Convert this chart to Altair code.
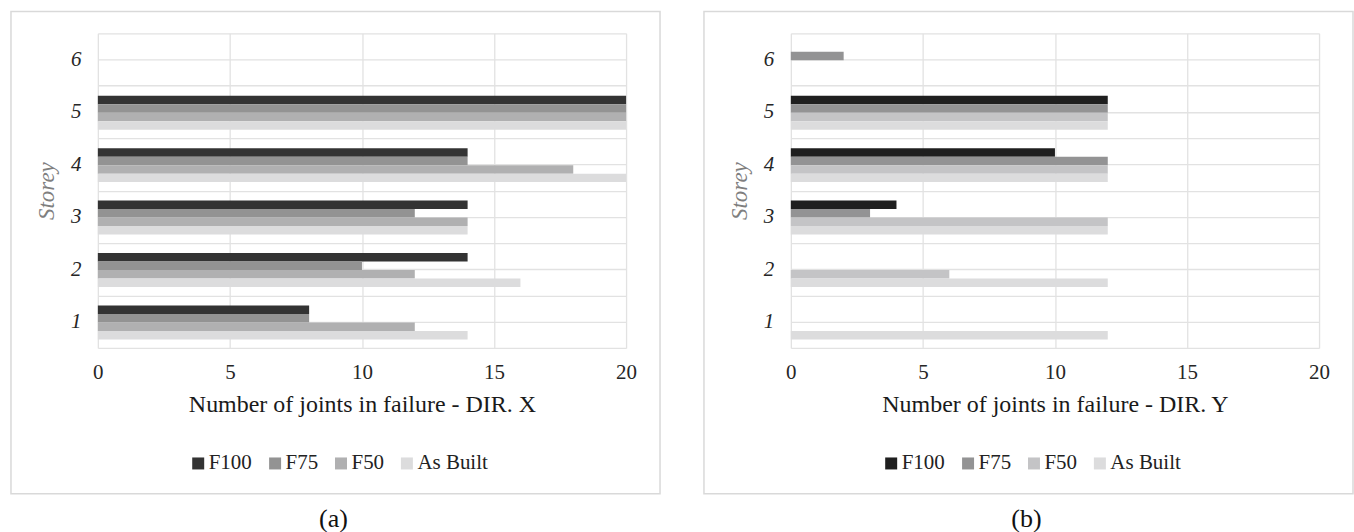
import altair as alt
import pandas as pd

# Storey numbers and retrofit series
storeys = [1, 2, 3, 4, 5, 6]
series = ["F100", "F75", "F50", "As Built"]

# Joints in failure per storey (storey 1..6), direction X
dir_x_f100 = [8, 14, 14, 14, 20, 0]
dir_x_f75 = [8, 10, 12, 14, 20, 0]
dir_x_f50 = [12, 12, 14, 18, 20, 0]
dir_x_asbuilt = [14, 16, 14, 20, 20, 0]

# Joints in failure per storey (storey 1..6), direction Y
dir_y_f100 = [0, 0, 4, 10, 12, 0]
dir_y_f75 = [0, 0, 3, 12, 12, 2]
dir_y_f50 = [0, 6, 12, 12, 12, 0]
dir_y_asbuilt = [12, 12, 12, 12, 12, 0]

x_ticks = [0, 5, 10, 15, 20]
y_grid = [0.5, 1, 1.5, 2, 2.5, 3, 3.5, 4, 4.5, 5, 5.5, 6, 6.5]

colors_x = ["#333333", "#939393", "#b0b0b1", "#dcdcdd"]
colors_y = ["#1f1f1f", "#939394", "#c4c4c6", "#dcdcdd"]

FONT = "Liberation Serif"
W, H = 529, 315
GRID = "#e2e2e2"


def long_table(cols):
    rows = []
    for i, (name, vals) in enumerate(zip(series, cols)):
        for st, v in zip(storeys, vals):
            rows.append({"storey": st, "series": name, "order": i, "value": v})
    return pd.DataFrame(rows)


def panel(df, colors, xtitle, caption):
    bars = (
        alt.Chart(df)
        .transform_filter("datum.value > 0")
        .transform_calculate(
            zero="0",
            top="datum.storey + 0.31 - datum.order * 0.162",
            bottom="datum.storey + 0.31 - (datum.order + 1) * 0.162",
        )
        .mark_rect(strokeWidth=0)
        .encode(
            x=alt.X(
                "zero:Q",
                scale=alt.Scale(domain=[0, 20], nice=False),
                axis=alt.Axis(
                    values=x_ticks,
                    title=xtitle,
                    grid=True,
                    gridColor=GRID,
                    gridWidth=1.3,
                    domain=False,
                    ticks=False,
                    labelFlush=False,
                    labelFont=FONT,
                    labelFontSize=21,
                    labelColor="#262626",
                    labelPadding=14,
                    titleFont=FONT,
                    titleFontSize=24,
                    titleFontWeight="normal",
                    titleColor="#1a1a1a",
                    titlePadding=10,
                ),
            ),
            x2="value:Q",
            y=alt.Y(
                "top:Q",
                scale=alt.Scale(domain=[0.5, 6.5], nice=False, zero=False),
                axis=alt.Axis(
                    values=y_grid,
                    labelExpr="datum.value % 1 == 0 ? format(datum.value, 'd') : ''",
                    grid=True,
                    gridColor=GRID,
                    gridWidth=1.3,
                    domain=False,
                    ticks=False,
                    labelOverlap=False,
                    labelFont=FONT,
                    labelFontStyle="italic",
                    labelFontSize=21,
                    labelColor="#262626",
                    labelPadding=17,
                    title="Storey",
                    titleFont=FONT,
                    titleFontStyle="italic",
                    titleFontWeight="normal",
                    titleFontSize=23,
                    titleColor="#7f7f7f",
                    titlePadding=12,
                ),
            ),
            y2="bottom:Q",
            color=alt.Color(
                "series:N",
                scale=alt.Scale(domain=series, range=colors),
                legend=alt.Legend(
                    title=None,
                    orient="none",
                    legendX=90,
                    legendY=420,
                    padding=0,
                    direction="horizontal",
                    symbolType="square",
                    symbolSize=144,
                    symbolStrokeWidth=0,
                    symbolOpacity=1,
                    labelFont=FONT,
                    labelFontSize=21,
                    labelColor="#222222",
                    labelOffset=0,
                    columnPadding=12,
                ),
            ),
        )
    )

    one = pd.DataFrame({"k": [0]})
    frame = (
        alt.Chart(one)
        .mark_rect(fillOpacity=0, stroke="#d9d9d9", strokeWidth=1.5)
        .encode(
            x=alt.value(-87), x2=alt.value(563), y=alt.value(-22), y2=alt.value(461)
        )
    )
    label = (
        alt.Chart(one)
        .mark_text(text=caption, font=FONT, fontSize=26, color="#111111", baseline="middle")
        .encode(x=alt.value(236), y=alt.value(486))
    )
    return alt.layer(frame, bars, label).properties(width=W, height=H)


df_x = long_table([dir_x_f100, dir_x_f75, dir_x_f50, dir_x_asbuilt])
df_y = long_table([dir_y_f100, dir_y_f75, dir_y_f50, dir_y_asbuilt])

chart = (
    alt.hconcat(
        panel(df_x, colors_x, "Number of joints in failure - DIR. X", "(a)"),
        panel(df_y, colors_y, "Number of joints in failure - DIR. Y", "(b)"),
        spacing=42,
    )
    .resolve_scale(color="independent")
    .configure(padding={"left": 10, "top": 10, "right": 0, "bottom": 0}, background="white")
    .configure_view(stroke=None)
)

chart.save("out.html", embed_options={"renderer": "svg", "actions": False})
